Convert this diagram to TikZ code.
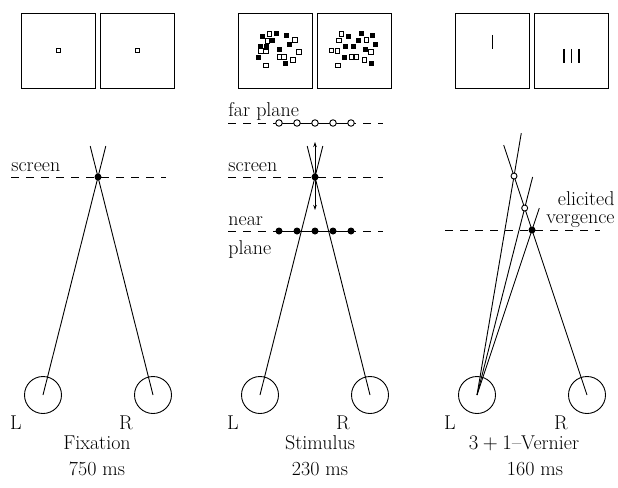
\documentclass[tikz,border=0pt]{standalone}
\usetikzlibrary{calc,arrows.meta}
\tikzset{
	eye/.style={draw,circle,minimum size=37pt,inner sep=0pt},
	fixdot/.style={circle,fill,inner sep=0pt,minimum size=7pt},
	opendot/.style={circle,draw,fill=white,inner sep=0pt,minimum size=6.5pt},
	planeline/.style={dash pattern=on 8pt off 7pt},
	lbl/.style={anchor=base west,inner sep=0pt},
	screenbox/.style={draw,minimum width=74pt,minimum height=75pt,inner sep=0pt},
	pix/.style={fill,minimum size=5pt,inner sep=0pt},
	opix/.style={draw,fill=white,minimum size=4.5pt,inner sep=0pt,line width=0.8pt},
	bar/.style={line width=1.8pt},
}
\begin{document}
\begin{tikzpicture}[x=1pt,y=-1pt,line width=0.9pt,>={Stealth[length=5pt,width=3.5pt]},
	font=\fontsize{20}{23}\selectfont]
	\useasboundingbox (0,0) rectangle (618,487);
	%屏幕上的图
	\node[screenbox] (b1l) at (58.5,50.5) {};
	\node[screenbox] (b1r) at (137.5,50.5) {};
	\node[draw,minimum size=4.5pt,inner sep=0pt,line width=0.9pt] (c1l) at (b1l) {};
	\node[draw,minimum size=4.5pt,inner sep=0pt,line width=0.9pt] (c1r) at (b1r) {};
	\node[screenbox] (b2l) at (275.5,50.5) {};
	\node[screenbox] (b2r) at (354.5,50.5) {};
	\foreach \dx/\dy [count=\i] in {-13.2/-14,0.5/-17,-3.2/-10,11.2/-15.3,13.8/-5.7,
		-15.5/-4.3,-9.5/-4.3,3.5/-0.7,-16.8/7,10.2/13.3}
		\node[pix] (fl\i) at ($(b2l)+(\dx,\dy)$) {};
	\foreach \dx/\dy [count=\i] in {-6.2/-16.7,-8.2/-9.7,19.5/-10.7,-14.8/0.3,-9.5/0.7,
		23.5/1.3,3.8/6.3,8.5/6.3,17.5/9.3,-9.5/15}
		\node[opix] (ol\i) at ($(b2l)+(\dx,\dy)$) {};
	\foreach \dx/\dy [count=\i] in {-6.3/-14,7.3/-17.3,18.3/-15.3,4.3/-10,-8.7/-4.3,
		-1/-4.3,20.7/-5.7,10.7/-1.3,-10.3/6.7,17.3/13.3}
		\node[pix] (fr\i) at ($(b2r)+(\dx,\dy)$) {};
	\foreach \dx/\dy [count=\i] in {-13.3/-16.7,-15.7/-10,11.7/-10.7,-23/0,-17/0.3,
		16.3/1.3,-3.3/6.3,1.7/6.3,10/9.3,-16.7/15}
		\node[opix] (or\i) at ($(b2r)+(\dx,\dy)$) {};
	\node[screenbox] (b3l) at (492.5,50.5) {};
	\node[screenbox] (b3r) at (571.5,50.5) {};
	\draw[bar] ($(b3l)+(0,-15.5)$) -- ($(b3l)+(0,-1.5)$);
	\foreach \dx in {-7.5,0,7.5}
		\draw[bar] ($(b3r)+(\dx,-1.5)$) -- ($(b3r)+(\dx,12.5)$);

	%Fixation
	\coordinate (L1) at (43,395);
	\coordinate (R1) at (153,395);
	\coordinate (F1) at (98,177);
	\coordinate (s1a) at (11,177);
	\coordinate (s1b) at (166,177);
	\draw[planeline] (s1a) -- (s1b);
	\draw (L1) -- ($(L1)!1.142!(F1)$);
	\draw (R1) -- ($(R1)!1.142!(F1)$);
	\node[eye] (eL1) at (L1) {};
	\node[eye] (eR1) at (R1) {};
	\node[fixdot] (f1) at (F1) {};
	\node[lbl] (scr1) at (11,171) {screen};
	\node (l1) at (16,423) {L};
	\node (r1) at (126,423) {R};
	\node (t1) at (97,443) {Fixation};
	\node (ms1) at (97,469) {750 ms};

	%Stimulus
	\coordinate (L2) at (260,395);
	\coordinate (R2) at (370,395);
	\coordinate (F2) at (315,177);
	\coordinate (far a) at (228,123);
	\coordinate (far b) at (383,123);
	\coordinate (s2a) at (228,177);
	\coordinate (s2b) at (383,177);
	\coordinate (near a) at (228,231);
	\coordinate (near b) at (383,231);
	\draw[planeline] (far a) -- (far b);
	\draw[planeline] (s2a) -- (s2b);
	\draw[planeline] (near a) -- (near b);
	\draw (279,123) -- (351,123);
	\draw (279,231) -- (351,231);
	\draw (L2) -- ($(L2)!1.142!(F2)$);
	\draw (R2) -- ($(R2)!1.142!(F2)$);
	\coordinate (up2) at (315,142);
	\coordinate (dn2) at (315,210);
	\draw[<->] (up2) -- (dn2);
	\foreach \dx [count=\i] in {-36,-18,0,18,36}
	{
		\node[opendot] (o\i) at ($(F2)+(\dx,-54)$) {};
		\node[fixdot] (n\i) at ($(F2)+(\dx,54)$) {};
	}
	\node[fixdot] (f2) at (F2) {};
	\node[eye] (eL2) at (L2) {};
	\node[eye] (eR2) at (R2) {};
	\node[lbl] (farlbl) at (228,116) {far plane};
	\node[lbl] (scr2) at (228,171) {screen};
	\node[lbl] (nearlbl) at (228,225) {near};
	\node[lbl] (planelbl) at (228,254) {plane};
	\node (l2) at (233,423) {L};
	\node (r2) at (343,423) {R};
	\node (t2) at (320,443) {Stimulus};
	\node (ms2) at (320,469) {230 ms};

	%3+1-Vernier
	\coordinate (L3) at (477,395);
	\coordinate (R3) at (587,395);
	\coordinate (V) at (532,230);
	\coordinate (O1) at ($(R3)!1.327!(V)$);
	\coordinate (O2) at ($(R3)!1.133!(V)$);
	\coordinate (v3a) at (445,230);
	\coordinate (v3b) at (600,230);
	\draw[planeline] (v3a) -- (v3b);
	\draw (R3) -- ($(R3)!1.515!(V)$);
	\draw (L3) -- ($(L3)!1.196!(O1)$);
	\draw (L3) -- ($(L3)!1.166!(O2)$);
	\draw (L3) -- ($(L3)!1.133!(V)$);
	\node[opendot,minimum size=6pt] (o3a) at (O1) {};
	\node[opendot,minimum size=6pt] (o3b) at (O2) {};
	\node[fixdot] (f3) at (V) {};
	\node[eye] (eL3) at (L3) {};
	\node[eye] (eR3) at (R3) {};
	\node[anchor=base east,inner sep=0pt] (el) at (615,205) {elicited};
	\node[anchor=base east,inner sep=0pt] (vg) at (615,223) {vergence};
	\node (l3) at (450,423) {L};
	\node (r3) at (561,423) {R};
	\node (t3) at (524,443) {$3+1$--Vernier};
	\node (ms3) at (535,469) {160 ms};
\end{tikzpicture}
\end{document}
